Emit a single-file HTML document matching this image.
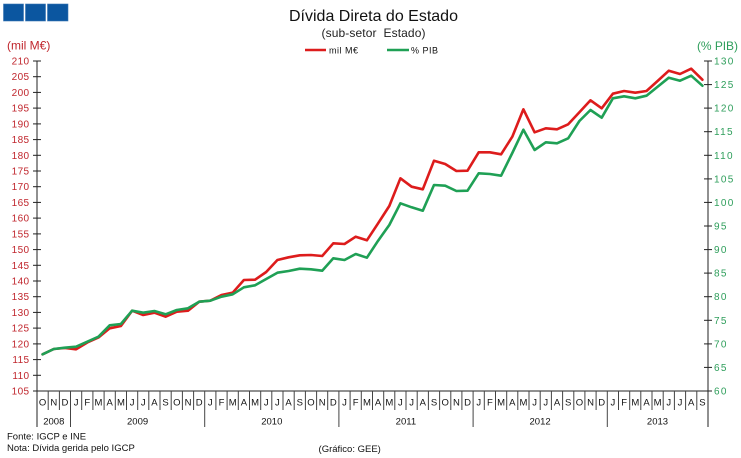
<!DOCTYPE html>
<html><head><meta charset="utf-8"><style>
html,body{margin:0;padding:0;background:#fff;}
svg{display:block;}
text{font-family:"Liberation Sans",Arial,sans-serif;}
</style></head><body>
<svg width="741" height="458" viewBox="0 0 741 458" xmlns="http://www.w3.org/2000/svg">
<rect width="741" height="458" fill="#fff"/>
<!-- logo -->
<rect x="3.5" y="4" width="20" height="17" fill="#0b56a0" stroke="#3a76b4" stroke-width="0.6"/>
<rect x="25.5" y="4" width="20" height="17" fill="#0b56a0" stroke="#3a76b4" stroke-width="0.6"/>
<rect x="47.5" y="4" width="20.5" height="17" fill="#0b56a0" stroke="#3a76b4" stroke-width="0.6"/>

<!-- title -->
<text x="373.5" y="21" font-size="16" text-anchor="middle" fill="#111">Dívida Direta do Estado</text>
<text x="373.5" y="37" font-size="12" text-anchor="middle" fill="#222" textLength="104" xml:space="preserve">(sub-setor  Estado)</text>

<!-- legend -->
<line x1="305" y1="50" x2="326" y2="50" stroke="#dd1c1c" stroke-width="2.5"/>
<text x="329" y="53.5" font-size="9" fill="#111" textLength="29">mil M€</text>
<line x1="387" y1="50" x2="409" y2="50" stroke="#1fa055" stroke-width="2.5"/>
<text x="411" y="53.5" font-size="9" fill="#111" textLength="27">% PIB</text>

<!-- axis titles -->
<text x="7" y="49.5" font-size="12" fill="#c0262d">(mil M€)</text>
<text x="697" y="50" font-size="12" fill="#2e9e5b" textLength="41">(% PIB)</text>

<!-- left axis -->
<g stroke="#222" stroke-width="1">
<line x1="37" y1="61" x2="37" y2="427"/>
<line x1="708" y1="61" x2="708" y2="427"/>
<line x1="33" y1="391" x2="712" y2="391"/>
</g>
<g stroke="#222" stroke-width="1">
<line x1="33" y1="61" x2="41" y2="61"/><line x1="33" y1="76.7" x2="41" y2="76.7"/><line x1="33" y1="92.4" x2="41" y2="92.4"/><line x1="33" y1="108.1" x2="41" y2="108.1"/><line x1="33" y1="123.9" x2="41" y2="123.9"/><line x1="33" y1="139.6" x2="41" y2="139.6"/><line x1="33" y1="155.3" x2="41" y2="155.3"/><line x1="33" y1="171" x2="41" y2="171"/><line x1="33" y1="186.7" x2="41" y2="186.7"/><line x1="33" y1="202.4" x2="41" y2="202.4"/><line x1="33" y1="218.1" x2="41" y2="218.1"/><line x1="33" y1="233.9" x2="41" y2="233.9"/><line x1="33" y1="249.6" x2="41" y2="249.6"/><line x1="33" y1="265.3" x2="41" y2="265.3"/><line x1="33" y1="281" x2="41" y2="281"/><line x1="33" y1="296.7" x2="41" y2="296.7"/><line x1="33" y1="312.4" x2="41" y2="312.4"/><line x1="33" y1="328.1" x2="41" y2="328.1"/><line x1="33" y1="343.9" x2="41" y2="343.9"/><line x1="33" y1="359.6" x2="41" y2="359.6"/><line x1="33" y1="375.3" x2="41" y2="375.3"/>
<line x1="704" y1="61" x2="712" y2="61"/><line x1="704" y1="84.6" x2="712" y2="84.6"/><line x1="704" y1="108.1" x2="712" y2="108.1"/><line x1="704" y1="131.7" x2="712" y2="131.7"/><line x1="704" y1="155.3" x2="712" y2="155.3"/><line x1="704" y1="178.9" x2="712" y2="178.9"/><line x1="704" y1="202.4" x2="712" y2="202.4"/><line x1="704" y1="226" x2="712" y2="226"/><line x1="704" y1="249.6" x2="712" y2="249.6"/><line x1="704" y1="273.1" x2="712" y2="273.1"/><line x1="704" y1="296.7" x2="712" y2="296.7"/><line x1="704" y1="320.3" x2="712" y2="320.3"/><line x1="704" y1="343.9" x2="712" y2="343.9"/><line x1="704" y1="367.4" x2="712" y2="367.4"/>
</g>
<g font-size="10" fill="#c0262d" text-anchor="end" letter-spacing="0.4">
<text x="29.5" y="64.5">210</text><text x="29.5" y="80.2">205</text><text x="29.5" y="95.9">200</text><text x="29.5" y="111.6">195</text><text x="29.5" y="127.4">190</text><text x="29.5" y="143.1">185</text><text x="29.5" y="158.8">180</text><text x="29.5" y="174.5">175</text><text x="29.5" y="190.2">170</text><text x="29.5" y="205.9">165</text><text x="29.5" y="221.6">160</text><text x="29.5" y="237.4">155</text><text x="29.5" y="253.1">150</text><text x="29.5" y="268.8">145</text><text x="29.5" y="284.5">140</text><text x="29.5" y="300.2">135</text><text x="29.5" y="315.9">130</text><text x="29.5" y="331.6">125</text><text x="29.5" y="347.4">120</text><text x="29.5" y="363.1">115</text><text x="29.5" y="378.8">110</text><text x="29.5" y="394.5">105</text>
</g>
<g font-size="10" fill="#2e9e5b" letter-spacing="1.3">
<text x="714" y="64.5">130</text><text x="714" y="88.1">125</text><text x="714" y="111.6">120</text><text x="714" y="135.2">115</text><text x="714" y="158.8">110</text><text x="714" y="182.4">105</text><text x="714" y="205.9">100</text><text x="714" y="229.5">95</text><text x="714" y="253.1">90</text><text x="714" y="276.6">85</text><text x="714" y="300.2">80</text><text x="714" y="323.8">75</text><text x="714" y="347.4">70</text><text x="714" y="370.9">65</text><text x="714" y="394.5">60</text>
</g>

<!-- month separators -->
<g stroke="#444" stroke-width="1">
<line x1="48.2" y1="391" x2="48.2" y2="410"/><line x1="59.4" y1="391" x2="59.4" y2="410"/><line x1="70.5" y1="391" x2="70.5" y2="427"/><line x1="81.7" y1="391" x2="81.7" y2="410"/><line x1="92.9" y1="391" x2="92.9" y2="410"/><line x1="104.1" y1="391" x2="104.1" y2="410"/><line x1="115.3" y1="391" x2="115.3" y2="410"/><line x1="126.5" y1="391" x2="126.5" y2="410"/><line x1="137.7" y1="391" x2="137.7" y2="410"/><line x1="148.8" y1="391" x2="148.8" y2="410"/><line x1="160" y1="391" x2="160" y2="410"/><line x1="171.2" y1="391" x2="171.2" y2="410"/><line x1="182.4" y1="391" x2="182.4" y2="410"/><line x1="193.6" y1="391" x2="193.6" y2="410"/><line x1="204.7" y1="391" x2="204.7" y2="427"/><line x1="215.9" y1="391" x2="215.9" y2="410"/><line x1="227.1" y1="391" x2="227.1" y2="410"/><line x1="238.3" y1="391" x2="238.3" y2="410"/><line x1="249.5" y1="391" x2="249.5" y2="410"/><line x1="260.7" y1="391" x2="260.7" y2="410"/><line x1="271.8" y1="391" x2="271.8" y2="410"/><line x1="283" y1="391" x2="283" y2="410"/><line x1="294.2" y1="391" x2="294.2" y2="410"/><line x1="305.4" y1="391" x2="305.4" y2="410"/><line x1="316.6" y1="391" x2="316.6" y2="410"/><line x1="327.7" y1="391" x2="327.7" y2="410"/><line x1="338.9" y1="391" x2="338.9" y2="427"/><line x1="350.1" y1="391" x2="350.1" y2="410"/><line x1="361.3" y1="391" x2="361.3" y2="410"/><line x1="372.5" y1="391" x2="372.5" y2="410"/><line x1="383.7" y1="391" x2="383.7" y2="410"/><line x1="394.8" y1="391" x2="394.8" y2="410"/><line x1="406" y1="391" x2="406" y2="410"/><line x1="417.2" y1="391" x2="417.2" y2="410"/><line x1="428.4" y1="391" x2="428.4" y2="410"/><line x1="439.6" y1="391" x2="439.6" y2="410"/><line x1="450.8" y1="391" x2="450.8" y2="410"/><line x1="461.9" y1="391" x2="461.9" y2="410"/><line x1="473.1" y1="391" x2="473.1" y2="427"/><line x1="484.3" y1="391" x2="484.3" y2="410"/><line x1="495.5" y1="391" x2="495.5" y2="410"/><line x1="506.7" y1="391" x2="506.7" y2="410"/><line x1="517.8" y1="391" x2="517.8" y2="410"/><line x1="529" y1="391" x2="529" y2="410"/><line x1="540.2" y1="391" x2="540.2" y2="410"/><line x1="551.4" y1="391" x2="551.4" y2="410"/><line x1="562.6" y1="391" x2="562.6" y2="410"/><line x1="573.8" y1="391" x2="573.8" y2="410"/><line x1="584.9" y1="391" x2="584.9" y2="410"/><line x1="596.1" y1="391" x2="596.1" y2="410"/><line x1="607.3" y1="391" x2="607.3" y2="427"/><line x1="618.5" y1="391" x2="618.5" y2="410"/><line x1="629.7" y1="391" x2="629.7" y2="410"/><line x1="640.8" y1="391" x2="640.8" y2="410"/><line x1="652" y1="391" x2="652" y2="410"/><line x1="663.2" y1="391" x2="663.2" y2="410"/><line x1="674.4" y1="391" x2="674.4" y2="410"/><line x1="685.6" y1="391" x2="685.6" y2="410"/><line x1="696.8" y1="391" x2="696.8" y2="410"/>
</g>

<!-- month labels -->
<g font-size="9.5" fill="#111" text-anchor="middle">
<text x="42.6" y="405.5">O</text><text x="53.8" y="405.5">N</text><text x="64.9" y="405.5">D</text>
<text x="76.1" y="405.5">J</text><text x="87.3" y="405.5">F</text><text x="98.5" y="405.5">M</text><text x="109.7" y="405.5">A</text><text x="120.9" y="405.5">M</text><text x="132.1" y="405.5">J</text><text x="143.2" y="405.5">J</text><text x="154.4" y="405.5">A</text><text x="165.6" y="405.5">S</text><text x="176.8" y="405.5">O</text><text x="188" y="405.5">N</text><text x="199.2" y="405.5">D</text>
<text x="210.3" y="405.5">J</text><text x="221.5" y="405.5">F</text><text x="232.7" y="405.5">M</text><text x="243.9" y="405.5">A</text><text x="255.1" y="405.5">M</text><text x="266.2" y="405.5">J</text><text x="277.4" y="405.5">J</text><text x="288.6" y="405.5">A</text><text x="299.8" y="405.5">S</text><text x="311" y="405.5">O</text><text x="322.2" y="405.5">N</text><text x="333.3" y="405.5">D</text>
<text x="344.5" y="405.5">J</text><text x="355.7" y="405.5">F</text><text x="366.9" y="405.5">M</text><text x="378.1" y="405.5">A</text><text x="389.3" y="405.5">M</text><text x="400.4" y="405.5">J</text><text x="411.6" y="405.5">J</text><text x="422.8" y="405.5">A</text><text x="434" y="405.5">S</text><text x="445.2" y="405.5">O</text><text x="456.4" y="405.5">N</text><text x="467.5" y="405.5">D</text>
<text x="478.7" y="405.5">J</text><text x="489.9" y="405.5">F</text><text x="501.1" y="405.5">M</text><text x="512.3" y="405.5">A</text><text x="523.4" y="405.5">M</text><text x="534.6" y="405.5">J</text><text x="545.8" y="405.5">J</text><text x="557" y="405.5">A</text><text x="568.2" y="405.5">S</text><text x="579.4" y="405.5">O</text><text x="590.5" y="405.5">N</text><text x="601.7" y="405.5">D</text>
<text x="612.9" y="405.5">J</text><text x="624.1" y="405.5">F</text><text x="635.3" y="405.5">M</text><text x="646.5" y="405.5">A</text><text x="657.6" y="405.5">M</text><text x="668.8" y="405.5">J</text><text x="680" y="405.5">J</text><text x="691.2" y="405.5">A</text><text x="702.4" y="405.5">S</text>
</g>
<g font-size="9.5" fill="#111" text-anchor="middle">
<text x="53.8" y="424.5">2008</text><text x="137.6" y="424.5">2009</text><text x="271.8" y="424.5">2010</text><text x="405.9" y="424.5">2011</text><text x="540.1" y="424.5">2012</text><text x="657.5" y="424.5">2013</text>
</g>

<!-- series -->
<polyline fill="none" stroke="#dd1c1c" stroke-width="2.6" stroke-linejoin="round" stroke-linecap="round" points="42.6,354.3 53.8,349 64.9,348 76.1,349.3 87.3,342.5 98.5,337.5 109.7,328.3 120.9,326 132.1,310.7 143.2,315 154.4,312.7 165.6,316.7 176.8,311.7 188,310.7 199.2,301.7 210.3,300.7 221.5,295 232.7,292.7 243.9,280 255.1,279.7 266.2,272 277.4,260 288.6,257.3 299.8,255.3 311,255 322.2,256 333.3,243.3 344.5,244 355.7,236.7 366.9,240.3 378.1,223.3 389.3,206 400.4,178.3 411.6,186.7 422.8,189.3 434,160.7 445.2,164 456.4,171 467.5,170.7 478.7,152.3 489.9,152.3 501.1,154.3 512.3,136.7 523.4,109.3 534.6,132.3 545.8,128.3 557,129.3 568.2,124.3 579.4,112.3 590.5,100.3 601.7,108.3 612.9,93.7 624.1,91 635.3,92.7 646.5,91 657.6,81 668.8,70.7 680,74 691.2,68.7 702.4,79.7"/>
<polyline fill="none" stroke="#1fa055" stroke-width="2.6" stroke-linejoin="round" stroke-linecap="round" points="42.6,354.3 53.8,349 64.9,347.7 76.1,346.7 87.3,341.7 98.5,336.7 109.7,325.3 120.9,324 132.1,310.7 143.2,312.7 154.4,311 165.6,314.3 176.8,310 188,308.3 199.2,301.7 210.3,300.7 221.5,296.7 232.7,294.3 243.9,287.3 255.1,285.3 266.2,279 277.4,272.7 288.6,271 299.8,268.7 311,269.3 322.2,270.7 333.3,258.3 344.5,260 355.7,254 366.9,257.7 378.1,240.7 389.3,225 400.4,203.3 411.6,207.3 422.8,210.7 434,185 445.2,185.7 456.4,191 467.5,190.7 478.7,173.3 489.9,174 501.1,175.7 512.3,153 523.4,129.7 534.6,150 545.8,142.3 557,143.3 568.2,138.3 579.4,121 590.5,110 601.7,117.7 612.9,98.3 624.1,96.3 635.3,98.3 646.5,95.7 657.6,86.7 668.8,77.7 680,80.7 691.2,75.7 702.4,85.7"/>

<!-- footer -->
<text x="7" y="439.5" font-size="9.5" fill="#111">Fonte: IGCP e INE</text>
<text x="7" y="451" font-size="9.5" fill="#111">Nota: Dívida gerida pelo IGCP</text>
<text x="349.7" y="452" font-size="9.5" fill="#111" text-anchor="middle">(Gráfico: GEE)</text>
</svg>
</body></html>
